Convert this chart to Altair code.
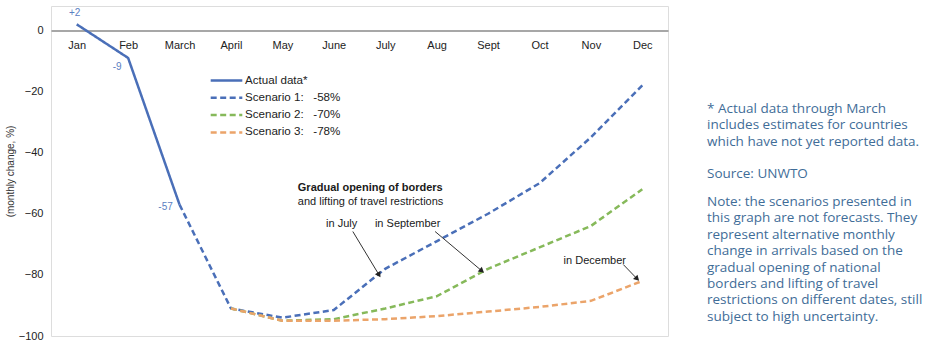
import altair as alt
import pandas as pd
import math

months = ["Jan", "Feb", "March", "April", "May", "June", "July", "Aug", "Sept", "Oct", "Nov", "Dec"]
series_names = ["Actual data*", "Scenario 1:\u00a0\u00a0\u00a0-58%", "Scenario 2:\u00a0\u00a0\u00a0-70%", "Scenario 3:\u00a0\u00a0\u00a0-78%"]
series_colors = ["#4a6fb8", "#4a6fb8", "#86b95a", "#eba46a"]

actual = [2, -9, -57]                                               # Jan..March
scen1 = [-57, -91, -94, -91.5, -78, -69, -60, -50, -35, -18]        # March..Dec
scen2 = [-91, -95, -94.5, -91, -87, -78, -71, -64, -52]             # April..Dec
scen3 = [-91, -95, -95, -94.5, -93.5, -92, -90.5, -88.5, -82]       # April..Dec

point_labels = ["+2", "-9", "-57"]

W, H = 617, 330
YMIN, YMAX = -100, 8

rows = []
for i, v in enumerate(actual):
    rows.append({"series": series_names[0], "idx": i, "value": v})
for i, v in enumerate(scen1):
    rows.append({"series": series_names[1], "idx": i + 2, "value": v})
for i, v in enumerate(scen2):
    rows.append({"series": series_names[2], "idx": i + 3, "value": v})
for i, v in enumerate(scen3):
    rows.append({"series": series_names[3], "idx": i + 3, "value": v})
df = pd.DataFrame(rows)

xscale = alt.Scale(domain=[-0.5, 11.5], nice=False, zero=False)
yscale = alt.Scale(domain=[YMIN, YMAX], nice=False, zero=False)

month_expr = "[" + ",".join("'%s'" % m for m in months) + "][datum.value]"
y0_px = H * YMAX / (YMAX - YMIN)

x_enc = alt.X("idx:Q", scale=xscale, axis=alt.Axis(
    values=list(range(12)), labelExpr=month_expr, title=None, orient="bottom",
    offset=-(H - y0_px), ticks=False, grid=False, domainColor="#8a8a8a", domainWidth=1.5,
    labelFont="Liberation Sans", labelFontSize=11, labelColor="#222", labelPadding=9,
    labelAngle=0))
y_enc = alt.Y("value:Q", scale=yscale, axis=alt.Axis(
    values=[-100, -80, -60, -40, -20, 0], title="(monthly change, %)", domain=False,
    ticks=False, grid=False, labelFont="Liberation Sans", labelFontSize=11,
    labelColor="#222", labelPadding=8, titleFont="Liberation Sans", titleFontSize=10,
    titleFontWeight="normal", titleColor="#333", titlePadding=3))

legend = alt.Legend(title=None, orient="none", legendX=158, legendY=68,
                    symbolType="stroke", symbolSize=1000, symbolStrokeWidth=2.5,
                    labelFont="Liberation Sans", labelFontSize=11.6, labelColor="#222",
                    clipHeight=13, rowPadding=4.3, labelOffset=1, labelLimit=200)

lines = alt.Chart(df).mark_line(strokeWidth=2.5).encode(
    x=x_enc, y=y_enc,
    color=alt.Color("series:N", scale=alt.Scale(domain=series_names, range=series_colors), legend=legend),
    strokeDash=alt.StrokeDash("series:N", scale=alt.Scale(domain=series_names,
                              range=[[1, 0], [6, 3.5], [6, 3.5], [6, 3.5]]), legend=legend),
    order=alt.Order("idx:Q"),
)

lab_df = pd.DataFrame({"idx": [0, 1, 2], "value": actual, "label": point_labels})
lab_pos = [(-2, -11), (-11, 9), (-14, 2)]
label_layers = []
for i, (dx, dy) in enumerate(lab_pos):
    label_layers.append(
        alt.Chart(lab_df.iloc[[i]]).mark_text(color="#5b80c2", fontSize=10, font="Liberation Sans",
                                              dx=dx, dy=dy).encode(
            x=alt.X("idx:Q", scale=xscale), y=alt.Y("value:Q", scale=yscale), text="label:N"))

# annotation texts (data coords)
ann_df = pd.DataFrame({
    "x": [4.3, 4.3, 4.85, 5.8, 9.47],
    "y": [-51.6, -56, -63.2, -63.2, -75.5],
    "text": ["Gradual opening of borders", "and lifting of travel restrictions",
             "in July", "in September", "in December"],
})
ann_bold = alt.Chart(ann_df.iloc[[0]]).mark_text(
    align="left", fontSize=11, font="Liberation Sans", color="#1a1a1a", fontWeight="bold").encode(
    x=alt.X("x:Q", scale=xscale), y=alt.Y("y:Q", scale=yscale), text="text:N")
ann_norm = alt.Chart(ann_df.iloc[1:]).mark_text(
    align="left", fontSize=11, font="Liberation Sans", color="#1a1a1a").encode(
    x=alt.X("x:Q", scale=xscale), y=alt.Y("y:Q", scale=yscale), text="text:N")

arrows_df = pd.DataFrame({
    "x": [5.37, 6.97, 10.63], "y": [-65.8, -65.8, -76.6],
    "x2": [5.88, 7.88, 10.9], "y2": [-80.0, -78.7, -81.3],
})
px_per_x = W / 12.0
px_per_y = H / (YMAX - YMIN)
arrows_df["ang"] = [
    math.degrees(math.atan2((r.x2 - r.x) * px_per_x, (r.y2 - r.y) * px_per_y)) % 360
    for r in arrows_df.itertuples()
]
shafts = alt.Chart(arrows_df).mark_rule(color="#333", strokeWidth=1).encode(
    x=alt.X("x:Q", scale=xscale), y=alt.Y("y:Q", scale=yscale), x2="x2:Q", y2="y2:Q")
heads = alt.Chart(arrows_df).mark_point(shape="triangle-up", filled=True, color="#222", size=40, opacity=1).encode(
    x=alt.X("x2:Q", scale=xscale), y=alt.Y("y2:Q", scale=yscale),
    angle=alt.Angle("ang:Q", scale=None))

note1 = "* Actual data through March\nincludes estimates for countries\nwhich have not yet reported data."
note2 = "Source: UNWTO"
note3 = ("Note: the scenarios presented in\nthis graph are not forecasts. They\nrepresent alternative monthly\n"
         "change in arrivals based on the\ngradual opening of national\nborders and lifting of travel\n"
         "restrictions on different dates, still\nsubject to high uncertainty.")
notes_df = pd.DataFrame({"text": [note1, note2, note3], "k": [0, 1, 2]})
note_layers = []
for k, yy in zip(range(3), [96, 161, 189]):
    note_layers.append(alt.Chart(notes_df.iloc[[k]]).mark_text(
        align="left", baseline="top", lineBreak="\n", lineHeight=16.4, font="Open Sans",
        fontSize=13.5, color="#3f6d98").encode(text="text:N", x=alt.value(656), y=alt.value(yy)))

chart = alt.layer(lines, *label_layers, ann_bold, ann_norm, shafts, heads, *note_layers).properties(
    width=W, height=H,
    autosize=alt.AutoSizeParams(type="none"),
    padding={"left": 51, "top": 6, "right": 933 - 51 - W, "bottom": 346 - 6 - H},
).configure_view(stroke=None).configure(background="white")

chart.save("out.html", embed_options={"renderer": "svg", "actions": False})
